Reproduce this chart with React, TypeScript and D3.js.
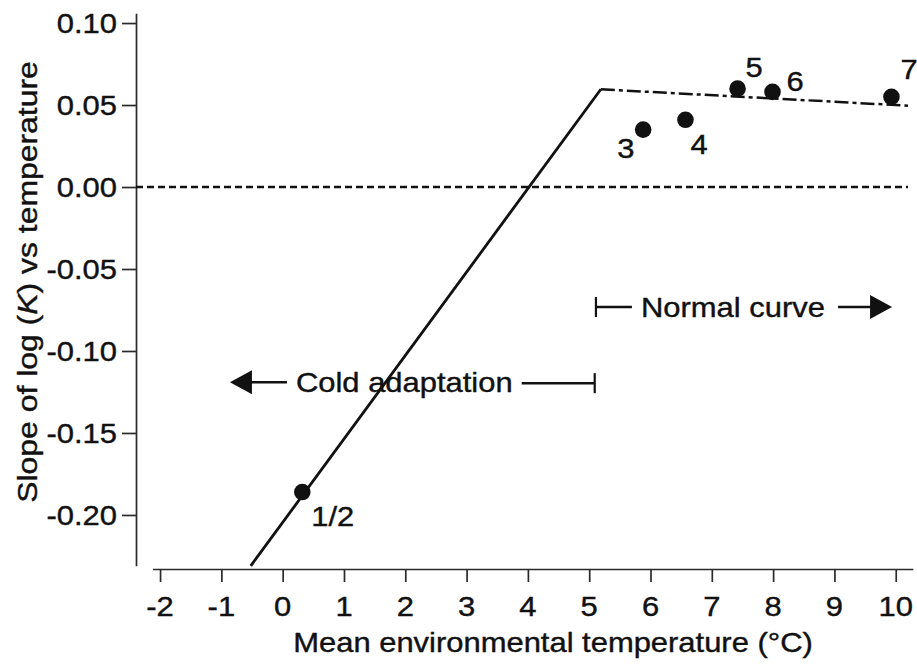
import { useEffect, useRef } from 'react';
import * as d3 from 'd3';

// measured values (temperature in °C, slope of log K)
const tempX = [0.32, 5.88, 6.57, 7.42, 7.99, 9.93];
const slopeY = [-0.186, 0.035, 0.041, 0.06, 0.058, 0.055];
const pointLabels = ['1/2', '3', '4', '5', '6', '7'];

// fitted segments
const coldLine: [number, number][] = [
    [-0.52, -0.231],
    [5.19, 0.0596],
];
const normalLine: [number, number][] = [
    [5.19, 0.0596],
    [10.2, 0.0496],
];

const xTicks = [-2, -1, 0, 1, 2, 3, 4, 5, 6, 7, 8, 9, 10];
const yTicks = [0.1, 0.05, 0, -0.05, -0.1, -0.15, -0.2];

// annotation extents (x from, x to, y)
const coldSpan = [-0.86, 5.09, -0.119];
const normalSpan = [5.11, 9.94, -0.0732];

// label placement in px relative to each dot
const labelOffsets = [
    [9, 34],
    [-26, 28],
    [5, 34],
    [8, -12],
    [14, -1],
    [9, -18],
];

const W = 917;
const H = 664;
const FONT = '"Liberation Sans", Arial, sans-serif';
const FS = 28;
const STRETCH = 1.105;
const INK = '#111';

export default function App() {
    const svgRef = useRef<SVGSVGElement>(null);

    useEffect(() => {
        if (!svgRef.current) return;
        const svg = d3.select(svgRef.current);
        svg.selectAll('*').remove();

        const x = d3.scaleLinear().domain([-2.125, 10.28]).range([152.4, 912.9]);
        const y = d3.scaleLinear().domain([-0.231, 0.106]).range([565.8, 13.2]);
        const yAxisX = 136;
        const xAxisY = 569;

        const label = (tx: number, ty: number, str: string, anchor = 'start') =>
            svg
                .append('text')
                .attr('transform', `translate(${tx},${ty}) scale(${STRETCH},1)`)
                .attr('text-anchor', anchor)
                .attr('font-family', FONT)
                .attr('font-size', FS)
                .attr('fill', INK)
                .attr('stroke', INK)
                .attr('stroke-width', 0.4)
                .text(str);

        // Axes
        svg.append('g')
            .attr('transform', `translate(${yAxisX},0)`)
            .call(d3.axisLeft(y).tickValues(yTicks).tickSize(14).tickSizeOuter(0).tickFormat(() => ''))
            .call((g) => g.selectAll('path,line').attr('stroke', '#2a2a2a').attr('stroke-width', 1.7));

        svg.append('g')
            .attr('transform', `translate(0,${xAxisY})`)
            .call(d3.axisBottom(x).tickValues(xTicks).tickSize(13).tickSizeOuter(0).tickFormat(() => ''))
            .call((g) => g.selectAll('path,line').attr('stroke', '#2a2a2a').attr('stroke-width', 1.7));

        yTicks.forEach((t) => label(117, y(t) + 10, t.toFixed(2), 'end'));
        xTicks.forEach((t) => label(x(t), 616, String(t), 'middle'));

        label(553, 652, 'Mean environmental temperature (°C)', 'middle');

        const yl = svg
            .append('text')
            .attr('transform', `translate(37,282) rotate(-90) scale(1.14,1)`)
            .attr('text-anchor', 'middle')
            .attr('font-family', FONT)
            .attr('font-size', FS)
            .attr('fill', INK)
            .attr('stroke', INK)
            .attr('stroke-width', 0.4);
        yl.append('tspan').text('Slope of log (');
        yl.append('tspan').attr('font-style', 'italic').text('K');
        yl.append('tspan').text(') vs temperature');

        // zero reference line
        svg.append('line')
            .attr('x1', yAxisX)
            .attr('x2', x(10.2))
            .attr('y1', y(0))
            .attr('y2', y(0))
            .attr('stroke', INK)
            .attr('stroke-width', 2.4)
            .attr('stroke-dasharray', '7 4');

        const line = d3
            .line<[number, number]>()
            .x((d) => x(d[0]))
            .y((d) => y(d[1]));

        svg.append('path')
            .attr('d', line(coldLine))
            .attr('fill', 'none')
            .attr('stroke', INK)
            .attr('stroke-width', 2.8);

        svg.append('path')
            .attr('d', line(normalLine))
            .attr('fill', 'none')
            .attr('stroke', INK)
            .attr('stroke-width', 2.5)
            .attr('stroke-dasharray', '14 4 4 4');

        // points
        tempX.forEach((tx, i) => {
            const cx = x(tx);
            const cy = y(slopeY[i]);
            svg.append('circle').attr('cx', cx).attr('cy', cy).attr('r', 8.3).attr('fill', INK);
            label(cx + labelOffsets[i][0], cy + labelOffsets[i][1], pointLabels[i]);
        });

        // arrow heads
        const head = (tipX: number, yy: number, dir: number) =>
            svg
                .append('path')
                .attr('d', `M${tipX},${yy} L${tipX - dir * 22},${yy - 12} L${tipX - dir * 22},${yy + 12} Z`)
                .attr('fill', INK);

        const bar = (bx: number, yy: number) =>
            svg
                .append('line')
                .attr('x1', bx)
                .attr('x2', bx)
                .attr('y1', yy - 10)
                .attr('y2', yy + 10)
                .attr('stroke', INK)
                .attr('stroke-width', 2.2);

        const seg = (x1: number, x2: number, yy: number) =>
            svg
                .append('line')
                .attr('x1', x1)
                .attr('x2', x2)
                .attr('y1', yy)
                .attr('y2', yy)
                .attr('stroke', INK)
                .attr('stroke-width', 2.5);

        // Cold adaptation annotation
        const cy0 = y(coldSpan[2]);
        const cL = x(coldSpan[0]);
        const cR = x(coldSpan[1]);
        head(cL, cy0, -1);
        seg(cL + 20, cL + 57, cy0);
        label(cL + 66, cy0 + 10, 'Cold adaptation');
        seg(cR - 73, cR, cy0 + 1);
        bar(cR, cy0 + 1);

        // Normal curve annotation
        const ny0 = y(normalSpan[2]);
        const nL = x(normalSpan[0]);
        const nR = x(normalSpan[1]);
        bar(nL, ny0);
        seg(nL, nL + 36, ny0);
        label(nL + 45, ny0 + 9.5, 'Normal curve');
        seg(nR - 54, nR - 20, ny0);
        head(nR, ny0, 1);
    }, []);

    return (
        <svg
            ref={svgRef}
            width={W}
            height={H}
            style={{ position: 'absolute', left: 0, top: 0, background: '#fff' }}
        />
    );
}
